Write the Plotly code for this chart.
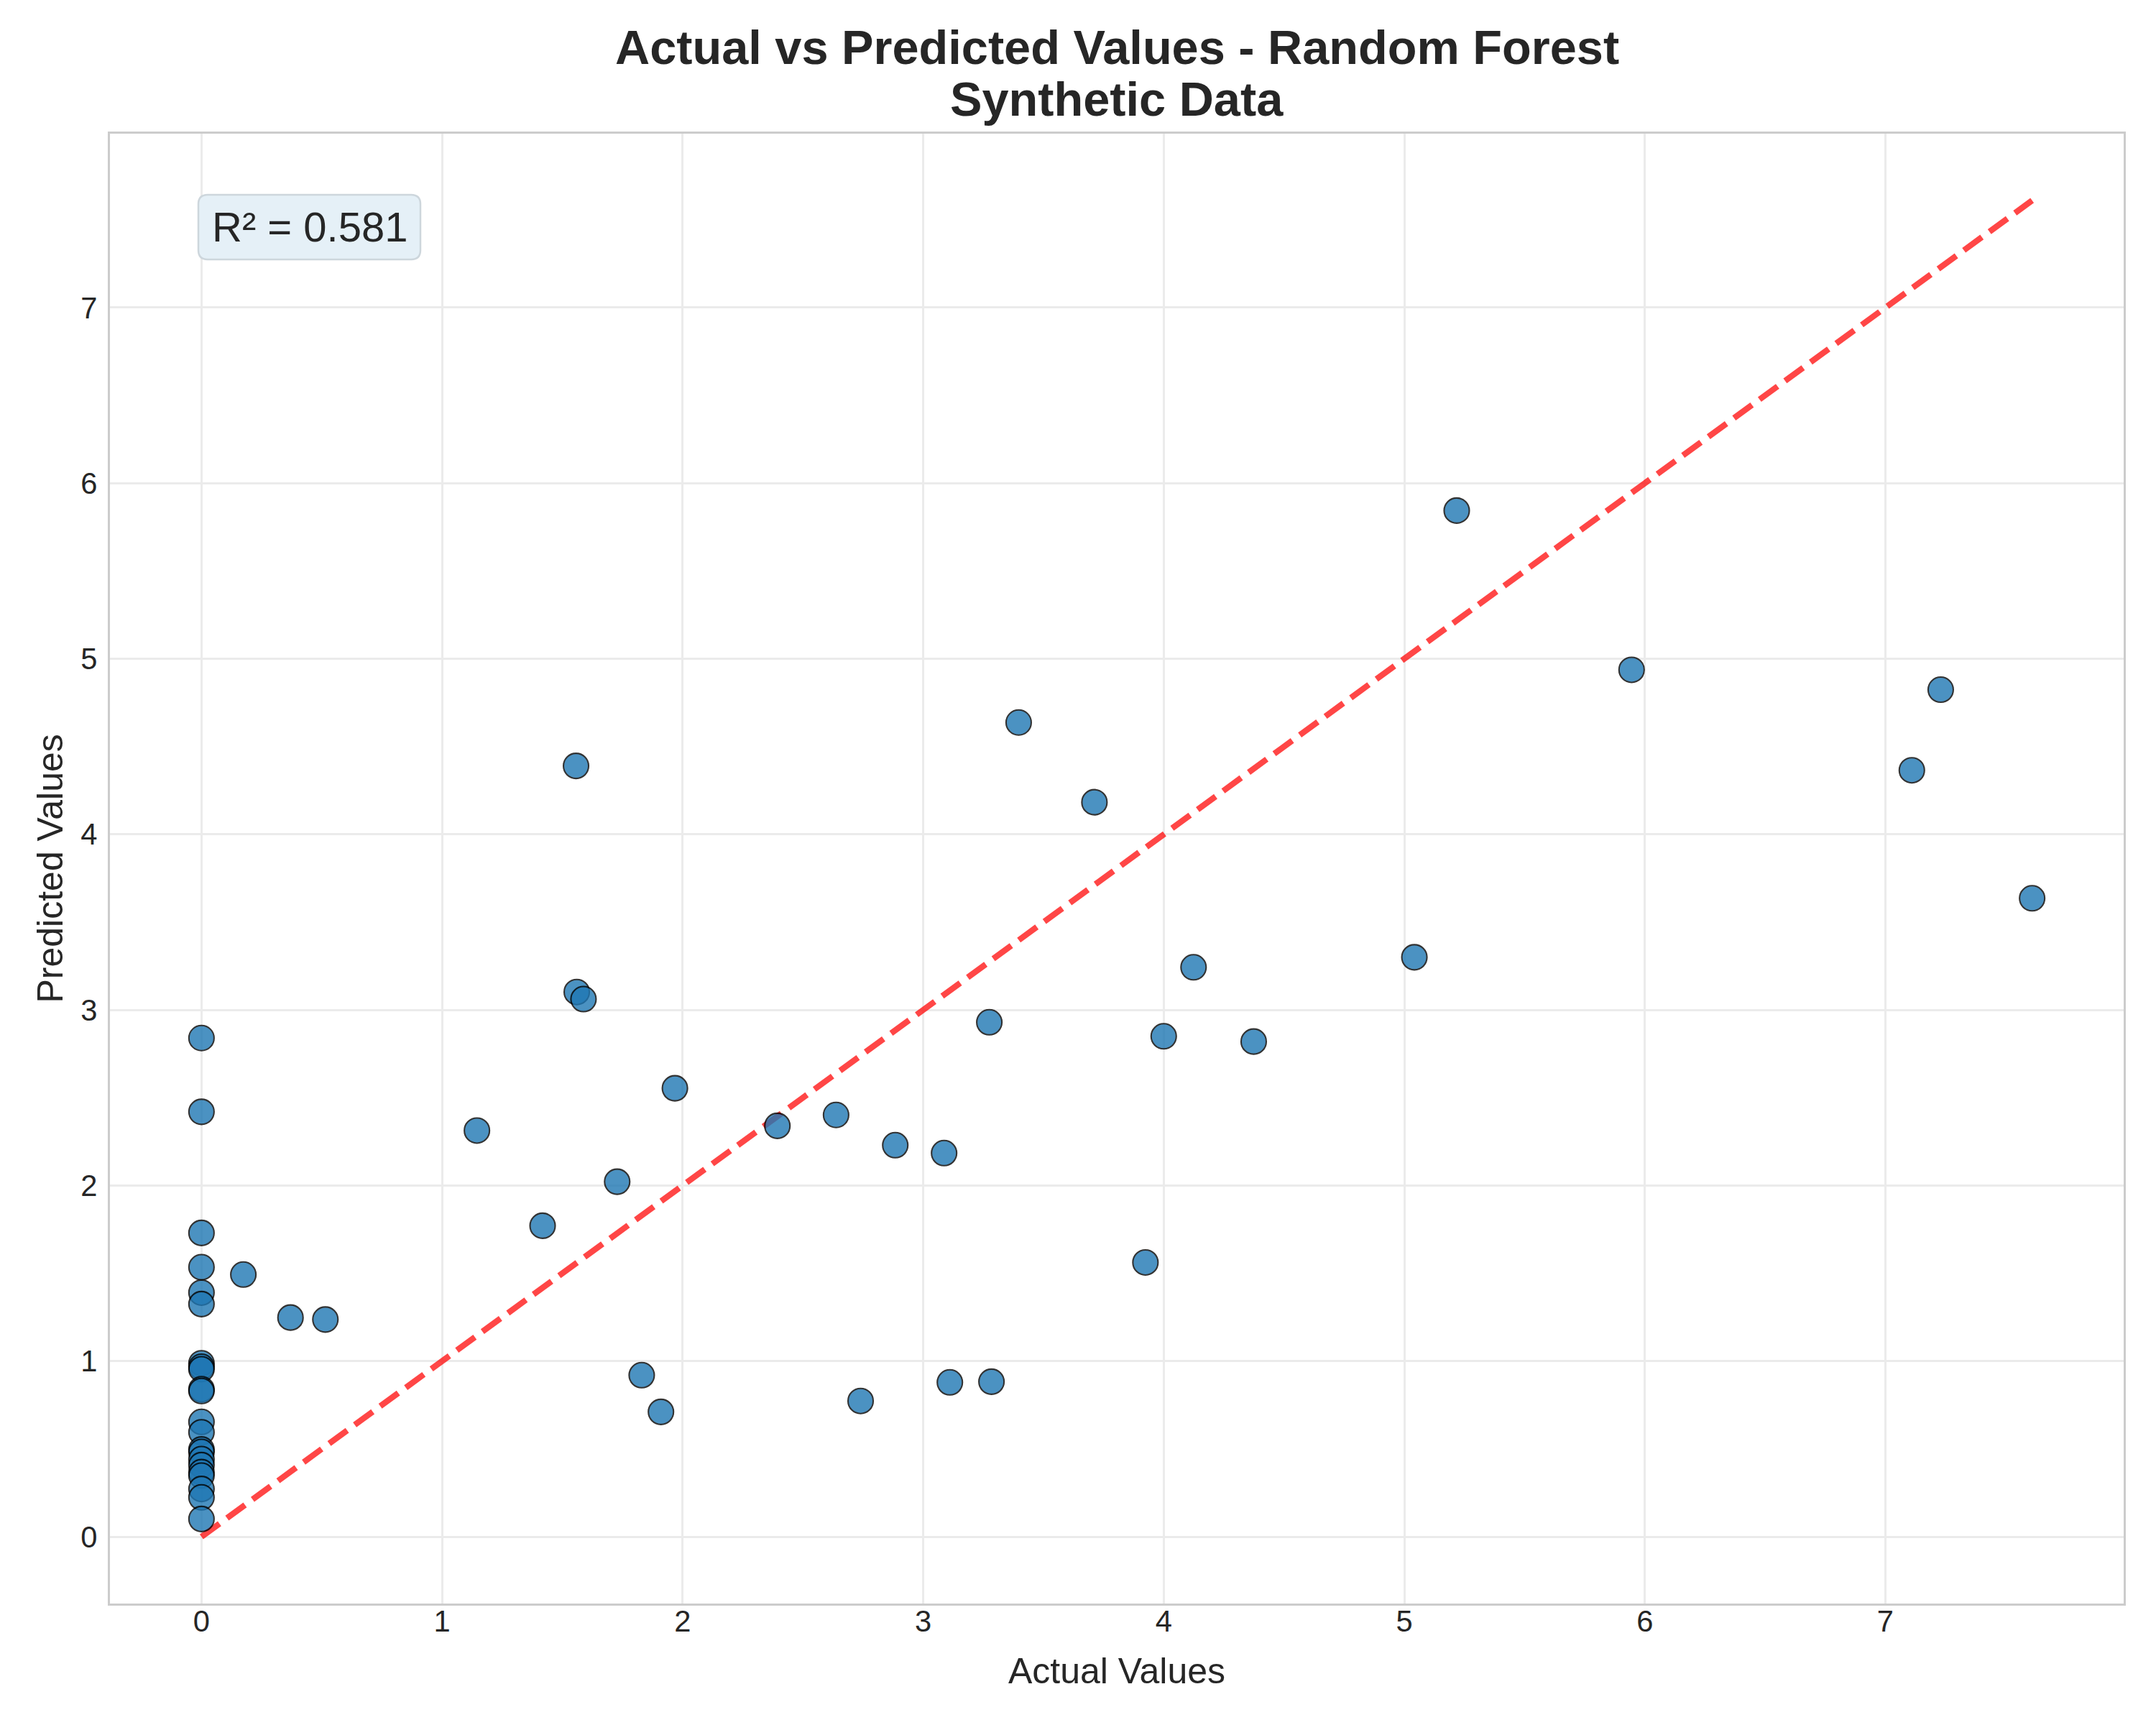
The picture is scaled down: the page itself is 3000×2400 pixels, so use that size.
import plotly.graph_objects as go

# ---- data ----
actual = [0, 0, 0, 0, 0, 0, 0, 0, 0, 0, 0, 0, 0, 0, 0, 0, 0, 0, 0, 0, 0, 0,
          0.174, 0.370, 0.515,
          1.145, 1.418, 1.557, 1.560, 1.588, 1.728, 1.830, 1.910, 1.968,
          2.394, 2.638, 2.740, 2.884, 3.087, 3.111, 3.275, 3.284, 3.397,
          3.712, 3.924, 4.000, 4.124, 4.374, 5.042, 5.218, 5.945,
          7.110, 7.230, 7.610]
predicted = [2.84, 2.42, 1.73, 1.535, 1.39, 1.325, 0.988, 0.968, 0.954, 0.84, 0.83,
             0.654, 0.595, 0.497, 0.483, 0.442, 0.408, 0.368, 0.348, 0.272, 0.224, 0.101,
             1.493, 1.248, 1.237,
             2.313, 1.771, 4.390, 3.102, 3.062, 2.022, 0.920, 0.711, 2.554,
             2.340, 2.402, 0.773, 2.230, 2.185, 0.879, 2.930, 0.883, 4.637,
             4.183, 1.562, 2.850, 3.243, 2.820, 3.300, 5.844, 4.937,
             4.365, 4.824, 3.636]
r2_text = "R² = 0.581"
title_line1 = "Actual vs Predicted Values - Random Forest"
title_line2 = "Synthetic Data"
x_label = "Actual Values"
y_label = "Predicted Values"
tick_vals = [0, 1, 2, 3, 4, 5, 6, 7]

lo = min(min(actual), min(predicted))
hi = max(max(actual), max(predicted))
pad = 0.05 * (hi - lo)
rng = [lo - pad, hi + pad]

FONT = "Liberation Sans, Arial, sans-serif"
TXT = "#262626"

fig = go.Figure()
fig.add_trace(go.Scatter(
    x=[lo, hi], y=[lo, hi], mode="lines",
    line=dict(color="rgb(255,0,0)", width=8.3, dash="31px,13px"),
    opacity=0.72, hoverinfo="skip", showlegend=False))
fig.add_trace(go.Scatter(
    x=actual, y=predicted, mode="markers",
    marker=dict(size=35, color="#1f77b4", opacity=0.8,
                line=dict(color="black", width=2.1)),
    showlegend=False))

axis_common = dict(
    range=rng, tickmode="array", tickvals=tick_vals,
    showgrid=True, gridcolor="#ebebeb", gridwidth=2.7,
    zeroline=False, showline=True, linecolor="#cccccc", linewidth=3.3,
    mirror=True, ticks="", ticklen=0,
    tickfont=dict(family=FONT, size=41.7, color=TXT),
)
fig.update_xaxes(**axis_common, ticklabelstandoff=-14)
fig.update_yaxes(**axis_common, ticklabelstandoff=6)

L, R, T, B = 153, 45, 186, 169
W, H = 3000, 2400
pw, ph = W - L - R, H - T - B

def py(pix):  # pixel row -> paper y
    return 1 - (pix - T) / ph

def px(pix):  # pixel column -> paper x
    return (pix - L) / pw

# rounded text box for the R² label (pixel extents -> paper units)
bx0, bx1, by0, by1, rad = 276, 585, 271, 361, 13
x0, x1 = px(bx0), px(bx1)
y0, y1 = py(by1), py(by0)
rx, ry = rad / pw, rad / ph
box_path = (f"M {x0+rx},{y0} L {x1-rx},{y0} Q {x1},{y0} {x1},{y0+ry} "
            f"L {x1},{y1-ry} Q {x1},{y1} {x1-rx},{y1} "
            f"L {x0+rx},{y1} Q {x0},{y1} {x0},{y1-ry} "
            f"L {x0},{y0+ry} Q {x0},{y0} {x0+rx},{y0} Z")
fig.add_shape(type="path", path=box_path, xref="paper", yref="paper",
              fillcolor="#e5f0f7", line=dict(color="#cdd6dc", width=2.5),
              layer="above")

annotations = [
    dict(text="<b>" + title_line1 + "</b>", x=0.5, y=py(66), xref="paper", yref="paper",
         xanchor="center", yanchor="middle", showarrow=False,
         font=dict(family=FONT, size=66.7, color=TXT)),
    dict(text="<b>" + title_line2 + "</b>", x=0.5, y=py(138), xref="paper", yref="paper",
         xanchor="center", yanchor="middle", showarrow=False,
         font=dict(family=FONT, size=66.7, color=TXT)),
    dict(text=x_label, x=0.5, y=py(2325), xref="paper", yref="paper",
         xanchor="center", yanchor="middle", showarrow=False,
         font=dict(family=FONT, size=50, color=TXT)),
    dict(text=y_label, x=px(69), y=0.5, xref="paper", yref="paper",
         xanchor="center", yanchor="middle", textangle=-90, showarrow=False,
         font=dict(family=FONT, size=50, color=TXT)),
    dict(text=r2_text, x=px((bx0 + bx1) / 2), y=py((by0 + by1) / 2),
         xref="paper", yref="paper",
         xanchor="center", yanchor="middle", showarrow=False,
         font=dict(family=FONT, size=58, color=TXT)),
]

fig.update_layout(
    width=W, height=H,
    margin=dict(l=L, r=R, t=T, b=B, pad=0),
    paper_bgcolor="white", plot_bgcolor="white",
    annotations=annotations,
)

fig.write_html("out.html", config={"displayModeBar": False},
               post_script="document.body.style.margin='0';document.body.style.padding='0';")
